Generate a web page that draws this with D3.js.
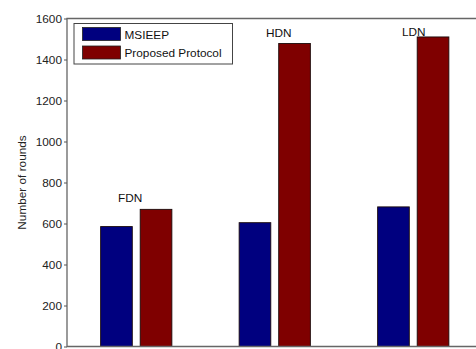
<!DOCTYPE html>
<html>
<head>
<meta charset="utf-8">
<script src="https://cdn.jsdelivr.net/npm/d3@7"></script>
<style>
  html, body { margin: 0; padding: 0; background: #fff; }
  svg { display: block; font-family: "Liberation Sans", Arial, sans-serif; }
</style>
</head>
<body>
<svg id="chart" width="476" height="349"></svg>
<script>
// Network lifetime: rounds until first / half / last node dies
const categories = ["FDN", "HDN", "LDN"];
const seriesNames = ["MSIEEP", "Proposed Protocol"];
const msieep = [585, 604, 681];
const proposed = [669, 1478, 1510];
const yTicks = [0, 200, 400, 600, 800, 1000, 1200, 1400, 1600];
// annotation anchors in data units (x: group index 1..3, y: rounds)
const annotX = [0.868, 1.937, 2.919];
const annotY = [706, 1509, 1515];

(function () {
  const colors = ["#00007f", "#7f0000"];
  const values = categories.map((c, i) => ({ cat: c, vals: [msieep[i], proposed[i]] }));

  const svg = d3.select("#chart");
  const plotLeft = 67, plotTop = 18.5, plotBottom = 346.5, unit = 138.5;
  const plotRight = plotLeft + unit * categories.length;

  // groups occupy [0.5, 3.5] in data units
  const xData = d3.scaleLinear().domain([0.5, 3.5]).range([plotLeft, plotRight]);
  const x0 = d3.scaleBand().domain(categories).range([plotLeft, plotRight]).paddingInner(0).paddingOuter(0);
  const groupHalf = unit * 0.2857;
  const x1 = d3.scaleBand().domain(d3.range(seriesNames.length))
    .range([-groupHalf, groupHalf]).paddingInner(0.2).paddingOuter(0.1);
  const y = d3.scaleLinear().domain([0, 1600]).range([plotBottom, plotTop]);

  // bars
  svg.append("g").selectAll("g.grp").data(values).join("g")
    .attr("class", "grp")
    .attr("transform", d => `translate(${x0(d.cat) + x0.bandwidth() / 2},0)`)
    .selectAll("rect").data(d => d.vals).join("rect")
    .attr("x", (v, j) => x1(j))
    .attr("width", x1.bandwidth())
    .attr("y", v => y(v))
    .attr("height", v => y(0) - y(v))
    .attr("fill", (v, j) => colors[j])
    .attr("stroke", "#1a0a0a")
    .attr("stroke-width", 0.9);

  // axes box (right side lies outside the view)
  svg.append("path")
    .attr("d", `M${plotRight},${plotTop}H${plotLeft}V${plotBottom}H${plotRight}`)
    .attr("fill", "none").attr("stroke", "#666").attr("stroke-width", 1.3);

  const yAxis = d3.axisLeft(y).tickValues(yTicks).tickSize(3).tickPadding(2).tickFormat(d3.format("d"));
  const ya = svg.append("g").attr("transform", `translate(${plotLeft},0)`).call(yAxis);
  ya.select(".domain").remove();
  ya.selectAll(".tick line").attr("stroke", "#555");
  ya.selectAll(".tick text").attr("fill", "#222").style("font-size", "11.8px");

  // y label
  svg.append("text")
    .attr("transform", `translate(26,${(plotTop + plotBottom) / 2}) rotate(-90)`)
    .attr("text-anchor", "middle")
    .attr("fill", "#222")
    .style("font-size", "11.8px")
    .text("Number of rounds");

  // category annotations
  svg.selectAll("text.ann").data(categories).join("text")
    .attr("class", "ann")
    .attr("x", (d, i) => xData(annotX[i]))
    .attr("y", (d, i) => y(annotY[i]))
    .attr("fill", "#111")
    .style("font-size", "11.8px")
    .text(d => d);

  // legend
  const lg = svg.append("g").attr("transform", "translate(74,23.5)");
  lg.append("rect").attr("width", 158.5).attr("height", 40.5)
    .attr("fill", "#fff").attr("stroke", "#444").attr("stroke-width", 1);
  seriesNames.forEach((name, i) => {
    lg.append("rect").attr("x", 8.5).attr("y", 4 + i * 18.5).attr("width", 38).attr("height", 13)
      .attr("fill", colors[i]).attr("stroke", "#222").attr("stroke-width", 0.8);
    lg.append("text").attr("x", 50.5).attr("y", 15.5 + i * 18.3)
      .attr("fill", "#111").style("font-size", "11.8px").text(name);
  });
})();
</script>
</body>
</html>
